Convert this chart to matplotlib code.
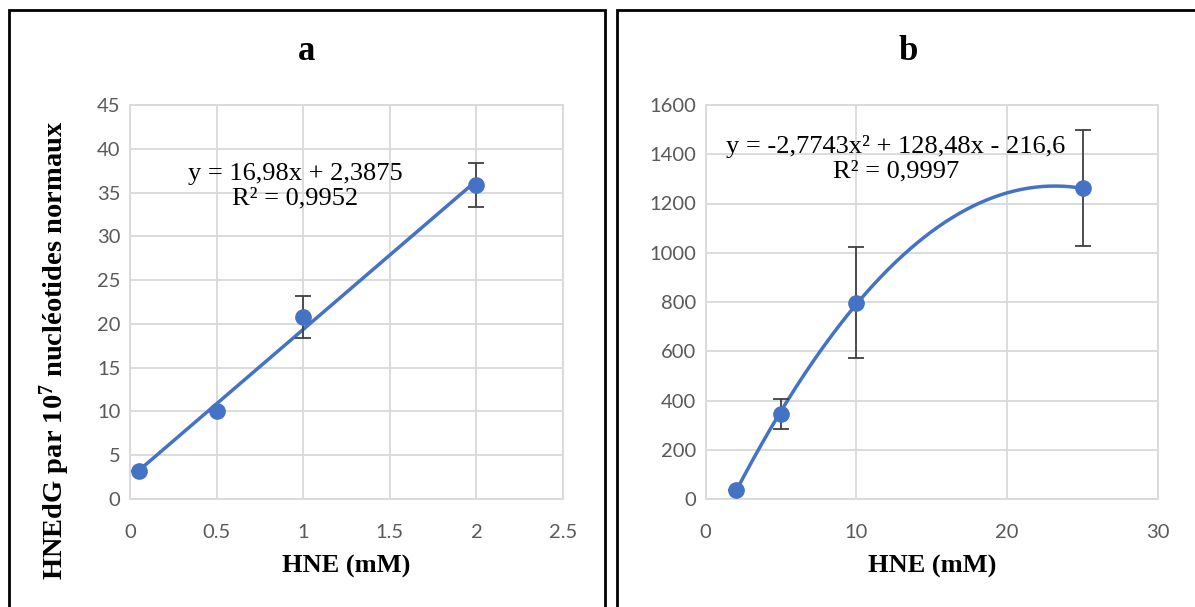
import numpy as np
import matplotlib
matplotlib.use("Agg")
from matplotlib import pyplot as plt
import matplotlib.patches as mpatches

plt.rcParams['mathtext.fontset'] = 'custom'
plt.rcParams['mathtext.rm'] = 'Liberation Serif'
plt.rcParams['mathtext.bf'] = 'Liberation Serif:bold'

# Panel a data
hne_a = [0.05, 0.5, 1, 2]
adduct_a = [3.2, 10.1, 20.8, 35.9]
err_a = [0, 0, 2.4, 2.5]
coef_a = [16.98, 2.3875]          # linear fit  y = a*x + b
eq_a = "y = 16,98x + 2,3875\nR² = 0,9952"

# Panel b data
hne_b = [2, 5, 10, 25]
adduct_b = [35, 345, 797, 1262]
err_b = [0, 60, 226, 235]
coef_b = [-2.7743, 128.48, -216.6]  # polynomial fit
eq_b = "y = -2,7743x² + 128,48x - 216,6\nR² = 0,9997"

blue = '#4472C4'
grid = '#d9d9d9'
tickc = '#595959'
serif = 'Liberation Serif'

fig = plt.figure(figsize=(11.95, 6.07), dpi=100)

# panel frames
W, H = 1195., 607.
fig.add_artist(mpatches.Rectangle((9/W, -0.05), (605-9)/W, (607-10)/H + 0.05, transform=fig.transFigure,
                                  fill=False, edgecolor='black', linewidth=2))
fig.add_artist(mpatches.Rectangle((617/W, -0.05), 0.5, (607-10)/H + 0.05, transform=fig.transFigure,
                                  fill=False, edgecolor='black', linewidth=2))

axa = fig.add_axes([130/W, 1-499/H, (563-130)/W, (499-105)/H])
axb = fig.add_axes([705.5/W, 1-499/H, (1158-705.5)/W, (499-105)/H])


def style(ax):
    ax.grid(True, color=grid, linewidth=1.3)
    ax.set_axisbelow(True)
    for s in ax.spines.values():
        s.set_color(grid)
        s.set_linewidth(1.3)
    ax.tick_params(length=0, labelsize=14.5, labelcolor=tickc)
    ax.tick_params(axis='y', pad=7)
    ax.tick_params(axis='x', pad=18)
    for lab in ax.get_xticklabels() + ax.get_yticklabels():
        lab.set_family('Lato')


# panel a
xa = np.linspace(min(hne_a), max(hne_a), 50)
axa.plot(xa, np.polyval(coef_a, xa), color=blue, linewidth=2.5, zorder=2)
axa.errorbar(hne_a, adduct_a, yerr=err_a, fmt='o', color=blue, markersize=11,
             ecolor='#404040', elinewidth=1.3, capsize=6, capthick=1.3, zorder=3)
axa.set_xlim(0, 2.5)
axa.set_ylim(0, 45)
axa.set_xticks([0, 0.5, 1, 1.5, 2, 2.5])
axa.set_xticklabels(['0', '0.5', '1', '1.5', '2', '2.5'])
axa.set_yticks(range(0, 46, 5))
style(axa)
axa.set_xlabel('HNE (mM)', family=serif, fontweight='bold', fontsize=19, labelpad=10)
fig.text(55/W, 1-350/H, r'HNEdG par 10$\mathbf{^{7}}$ nucléotides normaux', family=serif,
         fontweight='bold', fontsize=20.5, rotation=90, ha='center', va='center')
fig.text(295/W, 1-186/H, eq_a, ha='center', va='center',
         family=serif, fontsize=19, linespacing=1.15)
fig.text(307/W, 1-52/H, 'a', ha='center', va='center', family=serif, fontweight='bold', fontsize=25)

# panel b
xb = np.linspace(min(hne_b), max(hne_b), 200)
axb.plot(xb, np.polyval(coef_b, xb), color=blue, linewidth=2.5, zorder=2)
axb.errorbar(hne_b, adduct_b, yerr=err_b, fmt='o', color=blue, markersize=11,
             ecolor='#404040', elinewidth=1.3, capsize=6, capthick=1.3, zorder=3)
axb.set_xlim(0, 30)
axb.set_ylim(0, 1600)
axb.set_xticks([0, 10, 20, 30])
axb.set_yticks(range(0, 1601, 200))
style(axb)
axb.set_xlabel('HNE (mM)', family=serif, fontweight='bold', fontsize=19, labelpad=10)
fig.text(896/W, 1-159/H, eq_b, ha='center', va='center',
         family=serif, fontsize=19, linespacing=1.15)
fig.text(908/W, 1-52/H, 'b', ha='center', va='center', family=serif, fontweight='bold', fontsize=25)

fig.savefig('out.png', dpi=100)
